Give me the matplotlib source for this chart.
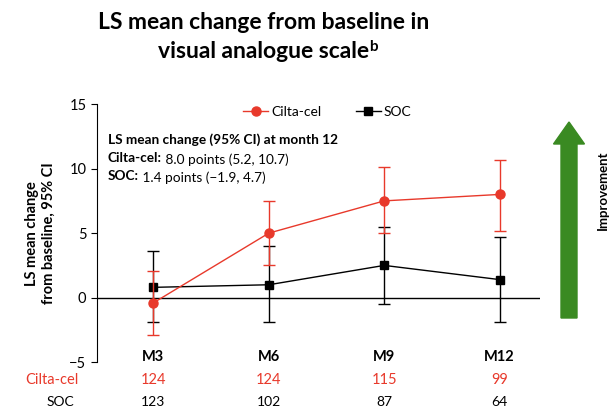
import matplotlib.pyplot as plt
import matplotlib.transforms as mtransforms
from matplotlib.patches import FancyArrow
from matplotlib.lines import Line2D
import numpy as np

plt.rcParams['font.family'] = ['Lato', 'DejaVu Sans']

# data
months = ["M3", "M6", "M9", "M12"]
cilta_mean = [-0.4, 5.0, 7.5, 8.0]
cilta_low = [-2.9, 2.5, 5.0, 5.2]
cilta_high = [2.1, 7.5, 10.1, 10.7]
soc_mean = [0.8, 1.0, 2.5, 1.4]
soc_low = [-1.9, -1.9, -0.5, -1.9]
soc_high = [3.6, 4.0, 5.5, 4.7]
n_cilta = [124, 124, 115, 99]
n_soc = [123, 102, 87, 64]

RED = "#e8392b"
GREEN = "#3a8a22"

fig = plt.figure(figsize=(6.13, 4.13), dpi=100)
ax = fig.add_axes([0.158, 0.123, 0.723, 0.625])

x = np.arange(len(months))
cm = np.array(cilta_mean)
sm = np.array(soc_mean)

ax.errorbar(x, sm, yerr=[sm - np.array(soc_low), np.array(soc_high) - sm],
            color="black", marker="s", markersize=6, lw=1, capsize=4,
            elinewidth=1, capthick=1, zorder=3)
ax.errorbar(x, cm, yerr=[cm - np.array(cilta_low), np.array(cilta_high) - cm],
            color=RED, marker="o", markersize=6.5, lw=1, capsize=4,
            elinewidth=1, capthick=1, zorder=4)

ax.axhline(0, color="black", lw=1, zorder=1)
ax.set_xlim(-0.49, 3.35)
ax.set_ylim(-5, 15)
ax.set_yticks([-5, 0, 5, 10, 15])
ax.set_yticklabels(["\u22125", "0", "5", "10", "15"])
ax.set_xticks([])
for s in ["top", "right", "bottom"]:
    ax.spines[s].set_visible(False)
ax.tick_params(axis="y", labelsize=10.5, direction="out", length=4)
ax.set_ylabel("LS mean change\nfrom baseline, 95% CI", fontsize=10.5,
              fontweight="bold", labelpad=10)

handles = [Line2D([], [], color=RED, marker="o", markersize=6.5, lw=1),
           Line2D([], [], color="black", marker="s", markersize=6, lw=1)]
ax.legend(handles, ["Cilta-cel", "SOC"], loc="upper center", ncol=2, frameon=False,
          fontsize=10, bbox_to_anchor=(0.52, 1.04), handlelength=1.8,
          columnspacing=2.5, handletextpad=0.2)

# month-12 summary
ax.text(0.025, 0.845, "LS mean change (95% CI) at month 12", transform=ax.transAxes,
        fontsize=9.8, fontweight="bold")
t1 = ax.text(0.025, 0.775, "Cilta-cel:", transform=ax.transAxes,
             fontsize=9.8, fontweight="bold")
ax.annotate(" 8.0 points (5.2, 10.7)", xy=(1, 0), xycoords=t1, fontsize=9.8)
t2 = ax.text(0.025, 0.705, "SOC:", transform=ax.transAxes,
             fontsize=9.8, fontweight="bold")
ax.annotate(" 1.4 points (\u22121.9, 4.7)", xy=(1, 0), xycoords=t2, fontsize=9.8)

# table under the axis
tr = mtransforms.blended_transform_factory(ax.transData, fig.transFigure)
for i, m in enumerate(months):
    ax.text(i, 0.136, m, transform=tr, ha="center", va="center",
            fontsize=10.5, fontweight="bold")
    ax.text(i, 0.080, str(n_cilta[i]), transform=tr, ha="center", va="center",
            fontsize=10.5, color=RED)
    ax.text(i, 0.027, str(n_soc[i]), transform=tr, ha="center", va="center",
            fontsize=10)
fig.text(0.128, 0.080, "Cilta-cel", ha="right", va="center", fontsize=10.5, color=RED)
fig.text(0.122, 0.027, "SOC", ha="right", va="center", fontsize=10)

# title
fig.text(0.43, 0.945, "LS mean change from baseline in", ha="center", va="center",
         fontsize=16.5, fontweight="bold")
tt = fig.text(0.43, 0.875, "visual analogue scale", ha="center", va="center",
              fontsize=16.5, fontweight="bold")
ax.annotate("b", xy=(1, 0.55), xycoords=tt, fontsize=11, fontweight="bold",
            annotation_clip=False)

# improvement arrow
arrow = FancyArrow(5.69, 0.95, 0, 1.96, width=0.16, head_width=0.31,
                   head_length=0.22, length_includes_head=True,
                   color=GREEN, transform=fig.dpi_scale_trans)
fig.patches.append(arrow)
fig.text(0.984, 0.54, "Improvement", rotation=90, ha="center", va="center",
         fontsize=9.5, fontweight="bold")

fig.savefig("out.png", dpi=100)
